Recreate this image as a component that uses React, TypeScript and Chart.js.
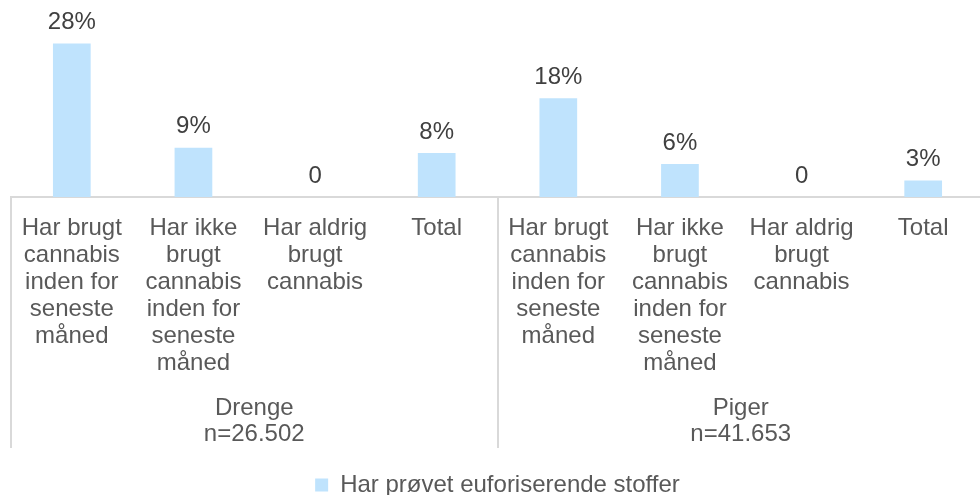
import React, { useEffect, useRef } from "react";
import { Chart, registerables } from "chart.js";

Chart.register(...registerables);

const categories: string[][] = [
  ["Har brugt", "cannabis", "inden for", "seneste", "måned"],
  ["Har ikke", "brugt", "cannabis", "inden for", "seneste", "måned"],
  ["Har aldrig", "brugt", "cannabis"],
  ["Total"],
  ["Har brugt", "cannabis", "inden for", "seneste", "måned"],
  ["Har ikke", "brugt", "cannabis", "inden for", "seneste", "måned"],
  ["Har aldrig", "brugt", "cannabis"],
  ["Total"],
];
const groups: string[][] = [
  ["Drenge", "n=26.502"],
  ["Piger", "n=41.653"],
];
const values: number[] = [28, 9, 0, 8, 18, 6, 0, 3];
const seriesName = "Har prøvet euforiserende stoffer";

const FONT = "'Liberation Sans', Arial, sans-serif";

const valueLabels = {
  id: "valueLabels",
  afterDatasetsDraw(chart: any) {
    const ctx = chart.ctx;
    const meta = chart.getDatasetMeta(0);
    ctx.save();
    ctx.font = `24px ${FONT}`;
    ctx.fillStyle = "#404040";
    ctx.textAlign = "center";
    ctx.textBaseline = "middle";
    meta.data.forEach((bar: any, i: number) => {
      const v = values[i];
      const txt = v === 0 ? "0" : `${v}%`;
      ctx.fillText(txt, bar.x, bar.y - 21);
    });
    ctx.restore();
  },
};

const groupLines = {
  id: "groupLines",
  afterDraw(chart: any) {
    const ctx = chart.ctx;
    const x = chart.scales.x;
    ctx.save();
    ctx.strokeStyle = "#d9d9d9";
    ctx.lineWidth = 2;
    [-0.5, 3.5, 7.5].forEach((v) => {
      const px = Math.round(x.getPixelForValue(v));
      ctx.beginPath();
      ctx.moveTo(px, chart.chartArea.bottom);
      ctx.lineTo(px, x.bottom + 67);
      ctx.stroke();
    });
    ctx.restore();
  },
};

export default function App() {
  const ref = useRef<HTMLCanvasElement | null>(null);
  useEffect(() => {
    document.body.style.margin = "0";
    const canvas = ref.current;
    if (!canvas) return;
    const chart = new Chart(canvas, {
      type: "bar",
      data: {
        labels: categories,
        datasets: [
          {
            label: seriesName,
            data: values,
            backgroundColor: "#bfe3fd",
            borderWidth: 0,
            categoryPercentage: 1,
            barPercentage: 0.31,
            xAxisID: "x",
          },
        ],
      },
      options: {
        responsive: false,
        animation: false,
        layout: { padding: { left: 11, right: 6, top: 5, bottom: -12 } },
        plugins: {
          tooltip: { enabled: false },
          legend: {
            position: "bottom",
            labels: {
              boxWidth: 13,
              boxHeight: 13,
              color: "#595959",
              font: { family: FONT, size: 24 },
              padding: 0,
            },
          },
        },
        scales: {
          y: {
            display: false,
            min: 0,
            max: 35,
          },
          x: {
            type: "category",
            position: "bottom",
            offset: true,
            grid: { display: false },
            border: { display: true, color: "#d9d9d9", width: 2 },
            ticks: {
              color: "#595959",
              font: { family: FONT, size: 24, lineHeight: 27 / 24 },
              padding: 10,
              maxRotation: 0,
              autoSkip: false,
            },
            afterFit: (s: any) => {
              s.height = 184;
            },
          },
          x2: {
            type: "category",
            position: "bottom",
            labels: groups as any,
            offset: true,
            grid: { display: false },
            border: { display: false },
            ticks: {
              color: "#595959",
              font: { family: FONT, size: 24, lineHeight: 26 / 24 },
              padding: 6,
              maxRotation: 0,
              autoSkip: false,
            },
            afterFit: (s: any) => {
              s.height = 92;
            },
          },
        },
      },
      plugins: [valueLabels, groupLines],
    });
    return () => chart.destroy();
  }, []);
  return (
    <div style={{ width: 980, height: 495, overflow: "hidden", background: "#fff" }}>
      <canvas ref={ref} width={990} height={495} style={{ display: "block" }} />
    </div>
  );
}
